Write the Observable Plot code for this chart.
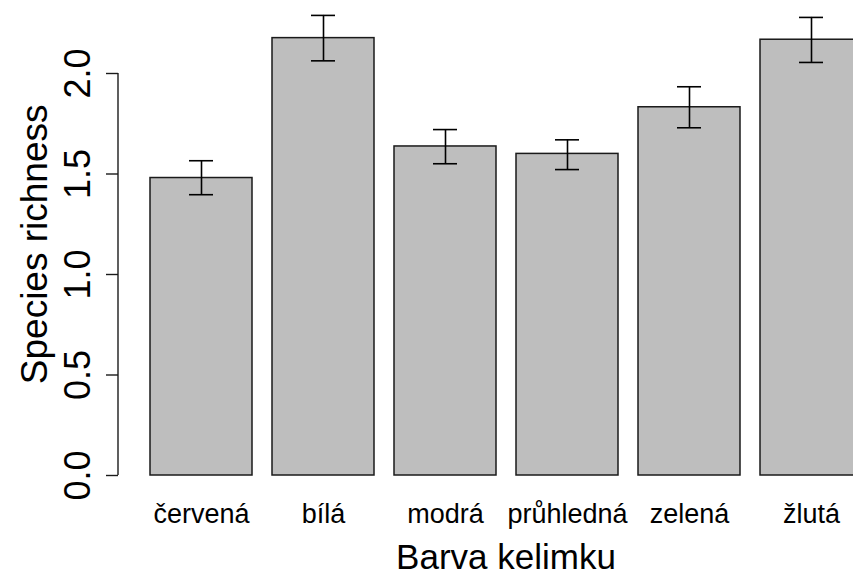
<!DOCTYPE html>
<html><head><meta charset="utf-8">
<script src="https://cdn.jsdelivr.net/npm/d3@7"></script>
<script src="https://cdn.jsdelivr.net/npm/@observablehq/plot@0.6"></script>
<style>
html,body{margin:0;padding:0;background:#fff;overflow:hidden;}
#chart svg{display:block;}
</style></head><body><div id="chart"></div>
<script>
const categories = ["červená", "bílá", "modrá", "průhledná", "zelená", "žlutá"];
const means = [1.480, 2.176, 1.637, 1.600, 1.832, 2.168];
const lower = [1.397, 2.063, 1.551, 1.522, 1.730, 2.055];
const upper = [1.566, 2.289, 1.721, 1.670, 1.934, 2.279];
const yTicks = [0, 0.5, 1, 1.5, 2];
const xTitle = "Barva kelimku";
const yTitle = "Species richness";

const data = categories.map((c, i) => ({cat: c, mean: means[i], lo: lower[i], hi: upper[i]}));
const W = 853, H = 576, mL = 118, mR = -40, mT = 12.7, mB = 101;
const font = "'Liberation Sans', Arial, Helvetica, sans-serif";

const chart = Plot.plot({
  width: W, height: H,
  marginLeft: mL, marginRight: mR, marginTop: mT, marginBottom: mB,
  style: {fontFamily: font, color: "black", background: "white", overflow: "hidden"},
  x: {domain: categories, paddingInner: 1/6, paddingOuter: 0.24, axis: null},
  y: {domain: [0, 2.3], axis: null},
  marks: [
    Plot.barY(data, {x: "cat", y: "mean", fill: "#bebebe", stroke: "#1a1a1a", strokeWidth: 1.5}),
    Plot.ruleX(data, {x: "cat", y1: "lo", y2: "hi", stroke: "black", strokeWidth: 1.6}),
    Plot.tickY(data, {x: "cat", y: "lo", insetLeft: 39, insetRight: 39, stroke: "black", strokeWidth: 1.6}),
    Plot.tickY(data, {x: "cat", y: "hi", insetLeft: 39, insetRight: 39, stroke: "black", strokeWidth: 1.6}),
    Plot.axisY({ticks: yTicks, anchor: "left", tickSize: 12, tickPadding: 17, tickRotate: -90,
      fontSize: 36, tickFormat: d => d.toFixed(1), label: null, strokeWidth: 1.4, stroke: "#1a1a1a"}),
    Plot.axisX({anchor: "bottom", tickSize: 0, tickPadding: 28.5, fontSize: 27, label: null}),
    Plot.text([yTitle], {frameAnchor: "left", rotate: -90, textAnchor: "middle", lineAnchor: "bottom",
      dx: -(mL - 46), fontSize: 37}),
    Plot.text([xTitle], {frameAnchor: "bottom", textAnchor: "middle", lineAnchor: "bottom",
      dy: 93, fontSize: 35})
  ]
});

const y = chart.scale("y");
d3.select(chart).append("line")
  .attr("x1", mL).attr("x2", mL)
  .attr("y1", y.apply(yTicks[0])).attr("y2", y.apply(yTicks[yTicks.length - 1]))
  .attr("stroke", "#1a1a1a").attr("stroke-width", 1.4);

document.getElementById("chart").appendChild(chart);
</script></body></html>
